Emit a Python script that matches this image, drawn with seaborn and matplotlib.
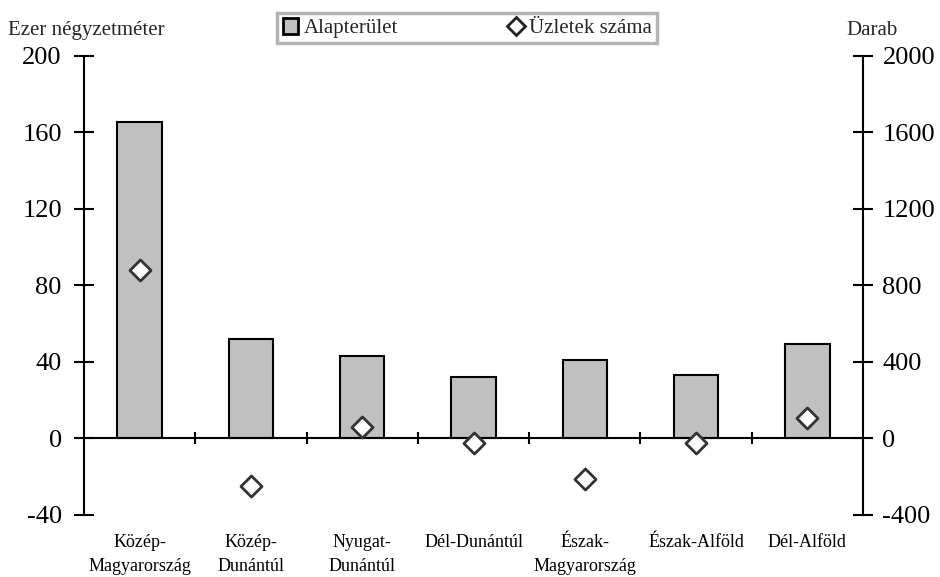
import numpy as np
import pandas as pd
import matplotlib.pyplot as plt
from matplotlib.patches import Patch
from matplotlib.lines import Line2D
import seaborn as sns

regions = ['Közép-\nMagyarország', 'Közép-\nDunántúl', 'Nyugat-\nDunántúl', 'Dél-Dunántúl',
           'Észak-\nMagyarország', 'Észak-Alföld', 'Dél-Alföld']
area = [165, 52, 43, 32, 41, 33, 49]          # Alapterület, ezer m2
shops = [880, -250, 60, -28, -215, -25, 103]  # Üzletek száma, darab

left_ticks = [-40, 0, 40, 80, 120, 160, 200]
right_ticks = [-400, 0, 400, 800, 1200, 1600, 2000]

df = pd.DataFrame({'region': regions, 'area': area, 'shops': shops})

sns.set_style('white')
plt.rcParams['font.family'] = ['Liberation Serif', 'DejaVu Serif']
plt.rcParams['axes.unicode_minus'] = False

fig = plt.figure(figsize=(9.4, 5.77), dpi=100)
ax = fig.add_axes([0.0894, 0.1083, 0.8287, 0.7955])

sns.barplot(data=df, x='region', y='area', ax=ax, width=0.4, color='#c0c0c0',
            saturation=1, edgecolor='black', linewidth=1.5, zorder=2)
ax.set_xlim(-0.5, len(regions) - 0.5)
ax.set_ylim(-40, 200)
ax.set_yticks(left_ticks)
ax.set_xlabel('')
ax.set_ylabel('')

for s in ['top', 'right']:
    ax.spines[s].set_visible(False)
ax.spines['bottom'].set_position(('data', 0))
for s in ['left', 'bottom']:
    ax.spines[s].set_linewidth(1.5)
    ax.spines[s].set_color('black')
    ax.spines[s].set_zorder(3)

ax.tick_params(axis='y', direction='inout', length=14, width=1.5, labelsize=19, pad=9, colors='black')
ax.set_xticks(range(len(regions)))
ax.set_xticklabels(regions, fontsize=13, linespacing=1.55)
ax.set_xticks(np.arange(0.5, len(regions) - 1, 1), minor=True)
ax.tick_params(axis='x', which='major', length=0, pad=69, colors='black')
ax.tick_params(axis='x', which='minor', direction='inout', length=9, width=1.5, bottom=True, color='black')

ax2 = ax.twinx()
sns.scatterplot(data=df, x='region', y='shops', ax=ax2, marker='D', s=115, color='white',
                edgecolor='#333333', linewidth=2, zorder=5, legend=False)
ax2.set_ylim(-400, 2000)
ax2.set_yticks(right_ticks)
ax2.set_ylabel('')
for s in ['top', 'left', 'bottom']:
    ax2.spines[s].set_visible(False)
ax2.spines['right'].set_linewidth(1.5)
ax2.spines['right'].set_color('black')
ax2.tick_params(axis='y', direction='inout', length=14, width=1.5, labelsize=19, pad=7, colors='black')

fig.text(0.009, 0.948, 'Ezer négyzetméter', fontsize=15, va='center', ha='left')
fig.text(0.928, 0.948, 'Darab', fontsize=15, va='center', ha='center')

handles = [Patch(facecolor='#c0c0c0', edgecolor='black', linewidth=2, label='Alapterület'),
           Line2D([], [], marker='D', linestyle='none', markersize=9, markerfacecolor='white',
                  markeredgecolor='#222222', markeredgewidth=2, label='Üzletek száma')]
leg = fig.legend(handles=handles, loc='center', bbox_to_anchor=(0.497, 0.951), ncol=2,
                 fontsize=15, frameon=True, fancybox=False, columnspacing=5.3,
                 handlelength=0.75, handleheight=0.75, handletextpad=0.25, borderpad=0.25,
                 borderaxespad=0)
leg.get_frame().set_edgecolor('#a0a0a0')
leg.get_frame().set_linewidth(2.5)

fig.savefig('out.png', dpi=100)
